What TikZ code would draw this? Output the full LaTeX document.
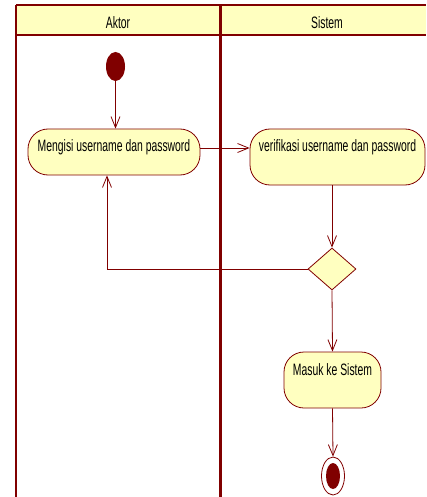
\documentclass[tikz,border=0pt]{standalone}
\usepackage{fontspec}
\usetikzlibrary{shapes.geometric,arrows.meta}
\newfontfamily\umlfont{Liberation Sans}[FakeStretch=0.63]
\definecolor{umlred}{RGB}{128,0,0}
\definecolor{umlyellow}{RGB}{255,255,192}

\begin{document}
\begin{tikzpicture}[x=1pt,y=-1pt,>={Straight Barb[length=11pt,width=9pt]},font=\umlfont\fontsize{16.5}{18}\selectfont,flow/.style={->,umlred,line width=0.8pt},lane/.style={draw=umlred,line width=2.2pt},action/.style={rectangle,rounded corners=20pt,draw=umlred,fill=umlyellow,line width=0.8pt,inner sep=0pt,text height=12pt,text depth=22pt},decision/.style={diamond,draw=umlred,fill=umlyellow,line width=0.8pt,minimum width=48pt,minimum height=42pt,inner sep=0pt},initial/.style={ellipse,fill=umlred,minimum width=19pt,minimum height=29pt,inner sep=0pt}]
            \useasboundingbox (0,0) rectangle (426,497);
            \fill[umlyellow] (16,5) rectangle (426,35);
            \draw[lane] (16,5) -- (426,5);
            \draw[lane] (16,35) -- (426,35);
            \draw[lane] (16,5) -- (16,497);
            \draw[lane,line width=3pt] (220,5) -- (220,497);
            \node[] (aktor) at (118,22.5) {Aktor};
            \node[] (sistem) at (327,22.5) {Sistem};

            \node[initial] (awal) at (115.5,66.5) {};
            \node[action,minimum width=172,minimum height=46,text depth=12pt] (isi) at (114,152) {Mengisi username dan password};
            \node[action,minimum width=175,minimum height=56] (verif) at (337.5,157) {verifikasi username dan password};
            \node[decision] (cek) at (332,269) {};
            \node[action,minimum width=97,minimum height=56] (masuk) at (332.5,380) {Masuk ke Sistem};
            \node[ellipse,draw=umlred,fill=white,line width=0.8pt,minimum width=23pt,minimum height=38pt,inner sep=0pt] (akhir) at (333,476) {};
            \node[initial,minimum width=14pt,minimum height=26pt] (akhirdot) at (akhir) {};

            \path[flow]
                (awal) edge (awal |- isi.north)
                ([yshift=4pt]isi.east) edge ([yshift=9pt]verif.west)
                (cek |- verif.south) edge (cek.north)
                (cek.south) edge (masuk.north)
                (masuk.south) edge (akhir.north)
                ;
            \draw[flow] (cek.west) -| ([xshift=-7pt]isi.south);
        \end{tikzpicture}
\end{document}
